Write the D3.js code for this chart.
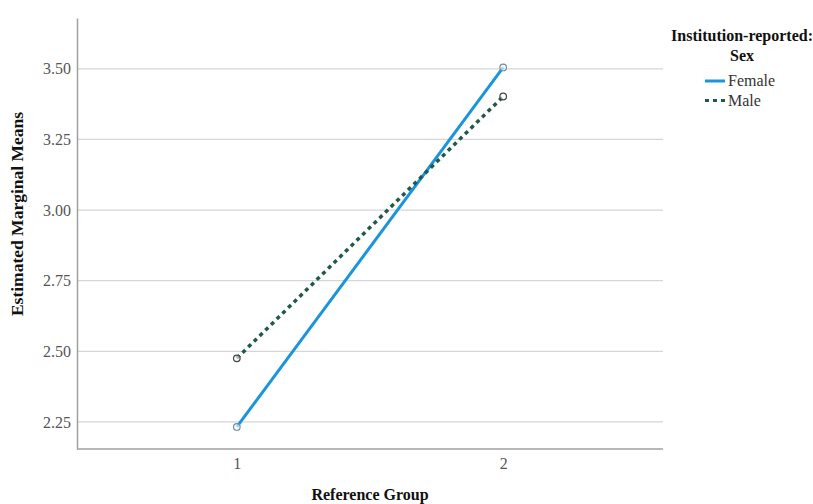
<!DOCTYPE html>
<html><head><meta charset="utf-8">
<script src="https://cdn.jsdelivr.net/npm/d3@7"></script>
<style>body{margin:0;background:#fff}svg{display:block}svg text{font-family:"Liberation Serif","Times New Roman",serif !important}</style>
</head><body>
<svg id="c" width="813" height="504"></svg>
<script>
const groups = ["1", "2"];
const seriesNames = ["Female", "Male"];
const femaleValues = [2.232, 3.505];
const maleValues = [2.475, 3.402];
const yTicks = [2.25, 2.50, 2.75, 3.00, 3.25, 3.50];
const colors = ["#1a95dc", "#1f5a4c"];

const svg = d3.select("#c");
const mLeft = 77, mRight = 663, mTop = 18, mBottom = 449;
const x = d3.scalePoint().domain(groups).range([mLeft, mRight]).padding(0.6);
const y = d3.scaleLinear().domain([2.154, 3.68]).range([mBottom, mTop]);

// gridlines
svg.append("g").selectAll("line").data(yTicks).join("line")
  .attr("x1", mLeft).attr("x2", mRight)
  .attr("y1", d => y(d)).attr("y2", d => y(d))
  .attr("stroke", "#d6d6d6").attr("stroke-width", 1.3);

// y axis
const ya = svg.append("g").attr("transform", `translate(${mLeft},0)`)
  .call(d3.axisLeft(y).tickValues(yTicks).tickFormat(d3.format(".2f")).tickSize(0).tickPadding(6));
ya.attr("font-family", null);
ya.select(".domain").attr("stroke", "#a0a0a0").attr("stroke-width", 1.5);
ya.selectAll("text").attr("font-size", 16).attr("fill", "#555");

// x axis
const xa = svg.append("g").attr("transform", `translate(0,${mBottom})`)
  .call(d3.axisBottom(x).tickSize(0).tickPadding(9));
xa.attr("font-family", null);
xa.select(".domain").attr("d", `M${mLeft},0H${mRight}`).attr("stroke", "#a0a0a0").attr("stroke-width", 1.5);
xa.selectAll("text").attr("font-size", 16).attr("fill", "#555");

// titles
svg.append("text").attr("x", (mLeft + mRight) / 2).attr("y", 500).attr("text-anchor", "middle")
  .attr("font-size", 16).attr("font-weight", "bold").attr("fill", "#111").text("Reference Group");
svg.append("text").attr("transform", "translate(23,214) rotate(-90)").attr("text-anchor", "middle")
  .attr("font-size", 17.5).attr("font-weight", "bold").attr("fill", "#111").text("Estimated Marginal Means");

// lines
const series = [femaleValues, maleValues];
const line = d3.line().x((d, i) => x(groups[i])).y(d => y(d));
series.forEach((vals, s) => {
  svg.append("path").datum(vals).attr("d", line).attr("fill", "none")
    .attr("stroke", colors[s]).attr("stroke-width", s === 1 ? 3.5 : 3)
    .attr("stroke-dasharray", s === 1 ? "4,4" : null);
});
series.forEach((vals, s) => {
  svg.append("g").selectAll("circle").data(vals).join("circle")
    .attr("cx", (d, i) => x(groups[i])).attr("cy", d => y(d)).attr("r", 3.3)
    .attr("fill", "#fff").attr("fill-opacity", 0.6).attr("stroke", s === 0 ? "#6b8fa8" : "#444").attr("stroke-width", 1.2);
});

// legend
const lg = svg.append("g");
lg.append("text").attr("x", 742).attr("y", 41).attr("text-anchor", "middle").attr("font-size", 16)
  .attr("font-weight", "bold").attr("fill", "#111").text("Institution-reported:");
lg.append("text").attr("x", 742).attr("y", 61).attr("text-anchor", "middle").attr("font-size", 16)
  .attr("font-weight", "bold").attr("fill", "#111").text("Sex");
seriesNames.forEach((n, i) => {
  const yy = 81 + i * 19.5;
  lg.append("line").attr("x1", 705).attr("x2", 725).attr("y1", yy).attr("y2", yy)
    .attr("stroke", colors[i]).attr("stroke-width", 3).attr("stroke-dasharray", i === 1 ? "4,4" : null);
  lg.append("text").attr("x", 728).attr("y", yy + 5).attr("font-size", 16).attr("fill", "#333").text(n);
});
</script>
</body></html>
